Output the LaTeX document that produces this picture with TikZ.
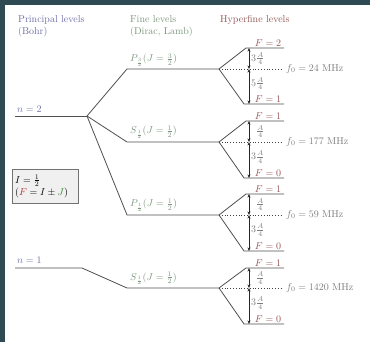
\documentclass[tikz,border=0pt]{standalone}
\usetikzlibrary{arrows.meta}
\definecolor{bgc}{RGB}{46,74,82}
\definecolor{princ}{RGB}{110,110,170}
\definecolor{fine}{RGB}{125,150,125}
\definecolor{hyper}{RGB}{150,85,85}
\definecolor{lvlc}{RGB}{80,80,80}
\definecolor{note}{RGB}{125,125,125}
\definecolor{jgreen}{RGB}{50,140,50}
\definecolor{fred}{RGB}{170,50,40}
\newcommand{\hfgroup}[9]{%
 \coordinate (#1c) at (219,#2);
 \coordinate (#1ta) at (246,#3); \coordinate (#1tb) at (284,#3);
 \coordinate (#1ba) at (244,#4); \coordinate (#1bb) at (284,#4);
 \coordinate (#1d) at (281,#2);
 \coordinate (#1at) at (249,#3); \coordinate (#1am) at (249,#2); \coordinate (#1ab) at (249,#4);
 \draw[lvl] (#1c) -- (#1ta) -- (#1tb);
 \draw[lvl] (#1c) -- (#1ba) -- (#1bb);
 \draw[dotl] (#1c) -- (#1d);
 \draw[gap] (#1at) -- (#1am);
 \draw[gap] (#1am) -- (#1ab);
 \node[flab] (#1Ft) at (268,#3) {$F=#5$};
 \node[flab] (#1Fb) at (268,#4) {$F=#6$};
 \node[glab] (#1gt) at (250,{(#2+#3)/2}) {#7};
 \node[glab] (#1gb) at (250,{(#2+#4)/2-3}) {#8};
 \node[f0lab] (#1f) at (286,#2) {$f_0=#9$ MHz};
}
\begin{document}
\begin{tikzpicture}[x=1pt,y=-1pt,
  font=\fontsize{10}{12}\selectfont,
  lvl/.style={draw=lvlc,line width=0.8pt},
  dotl/.style={draw=black!75,line width=0.8pt,dotted},
  gap/.style={draw=black!85,line width=0.55pt,{Stealth[length=3.6pt,width=3pt]}-{Stealth[length=3.6pt,width=3pt]}},
  flab/.style={text=hyper,anchor=south,inner sep=1pt},
  glab/.style={text=note,anchor=west,inner sep=1pt},
  finelab/.style={text=fine,anchor=base west,inner sep=0pt},
  f0lab/.style={text=note,anchor=west,inner sep=0pt},
  head/.style={anchor=north west,align=left,inner sep=0pt}]
\fill[bgc] (0,0) rectangle (370,342);
\fill[white] (5,5) rectangle (370,342);
\useasboundingbox (0,0) rectangle (370,342);

% headers
\node[head,text=princ] (hp) at (18,15) {Principal levels\\(Bohr)};
\node[head,text=fine] (hf) at (130,15) {Fine levels\\(Dirac, Lamb)};
\node[head,text=hyper] (hh) at (220,15) {Hyperfine levels};

% principal and fine levels
\coordinate (n2a) at (15,116); \coordinate (n2b) at (87,116);
\coordinate (p3a) at (127,69); \coordinate (p3b) at (219,69);
\coordinate (s2a) at (127,142); \coordinate (s2b) at (219,142);
\coordinate (p1a) at (127,215); \coordinate (p1b) at (219,215);
\coordinate (n1a) at (15,268); \coordinate (n1b) at (82,268);
\coordinate (s1a) at (127,288); \coordinate (s1b) at (219,288);

\draw[lvl] (n2a) -- (n2b);
\draw[lvl] (n2b) -- (p3a) -- (p3b);
\draw[lvl] (n2b) -- (s2a) -- (s2b);
\draw[lvl] (n2b) -- (p1a) -- (p1b);
\draw[lvl] (n1a) -- (n1b) -- (s1a) -- (s1b);

\node[anchor=base west,inner sep=0pt,text=princ] (ln2) at (17,113) {$n=2$};
\node[anchor=base west,inner sep=0pt,text=princ] (ln1) at (17,264) {$n=1$};

\node[finelab] (lp3) at (130,62) {$P_{\frac32}(J=\frac32)$};
\node[finelab] (ls2) at (130,134) {$S_{\frac12}(J=\frac12)$};
\node[finelab] (lp1) at (130,207) {$P_{\frac12}(J=\frac12)$};
\node[finelab] (ls1) at (130,280) {$S_{\frac12}(J=\frac12)$};

% hyperfine
\hfgroup{ga}{69}{48}{104}{2}{1}{$3\frac{A}{4}$}{$5\frac{A}{4}$}{24}
\hfgroup{gb}{142}{121}{178}{1}{0}{$\phantom{3}\frac{A}{4}$}{$3\frac{A}{4}$}{177}
\hfgroup{gc}{215}{194}{251}{1}{0}{$\phantom{3}\frac{A}{4}$}{$3\frac{A}{4}$}{59}
\hfgroup{gd}{288}{268}{324}{1}{0}{$\phantom{3}\frac{A}{4}$}{$3\frac{A}{4}$}{1420}

% info box
\node[draw=black!55,fill=black!6,anchor=north west,minimum height=34pt,
      text width=60pt,inner sep=3pt,align=left] (box) at (12,169)
  {$I=\frac12$\\$(\textcolor{fred}{F}=I\pm\textcolor{jgreen}{J})$};
\end{tikzpicture}
\end{document}
